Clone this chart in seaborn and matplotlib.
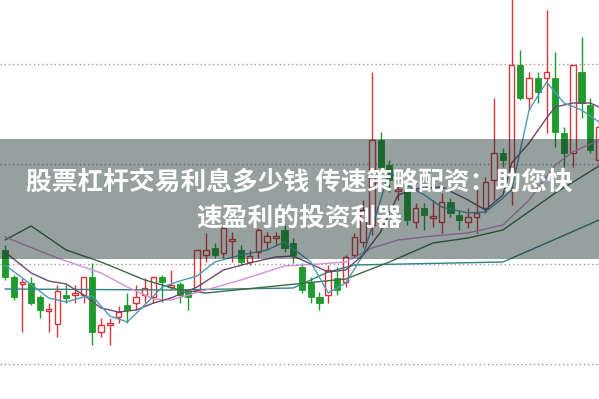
import numpy as np
import pandas as pd
import seaborn as sns
import matplotlib
matplotlib.use("Agg")
import matplotlib.pyplot as plt
from matplotlib.patches import Rectangle

# ---- candle data (one per session) ----
opens  = [111.4,108.7,108.0,108.1,106.7,105.3,104.0,106.9,106.9,106.9,108.7,103.2,103.9,104.7,105.9,106.1,106.9,106.7,108.7,107.7,
          108.0,107.2,107.4,110.9,111.6,111.1,112.3,111.4,110.2,111.2,112.2,112.6,113.4,112.1,109.7,108.1,106.7,106.9,108.6,108.2,
          110.9,112.2,113.9,122.4,119.9,117.3,117.4,114.2,115.6,114.6,114.2,116.2,114.9,114.2,114.7,115.6,118.4,121.1,119.4,129.9,
          126.6,128.6,128.6,128.6,123.1,121.1,129.2,125.9,120.4]
closes = [108.7,106.7,108.2,106.1,105.4,105.5,107.3,106.6,107.1,108.7,103.2,103.9,104.1,105.2,105.4,106.7,107.6,108.7,108.2,107.9,
          106.9,106.7,111.4,111.4,110.9,113.6,112.5,110.2,110.8,113.4,112.8,112.8,111.6,110.9,107.4,106.7,106.1,109.4,107.4,110.7,
          112.7,115.4,122.4,119.7,118.4,117.5,114.4,115.6,114.9,114.8,116.2,115.1,114.4,114.7,115.1,118.2,121.1,120.4,129.9,126.6,
          128.6,127.2,129.2,123.2,121.1,129.9,126.1,121.4,123.7]
highs  = [111.9,108.9,108.6,108.7,106.9,106.1,107.9,107.9,107.9,108.7,110.1,104.6,104.6,105.8,107.1,107.9,108.6,108.7,108.9,109.4,
          108.2,107.4,111.4,113.1,112.1,113.9,113.2,111.9,111.4,113.6,113.2,113.2,113.9,112.6,110.1,108.7,107.2,109.9,109.7,110.9,
          113.1,116.4,129.2,123.2,120.4,118.4,117.9,116.1,116.1,116.4,117.1,116.6,115.4,115.6,117.4,118.7,126.6,121.6,137.0,131.4,
          129.2,129.2,135.4,131.2,123.7,129.9,132.7,126.6,124.4]
lows   = [108.4,106.4,103.2,105.9,104.6,103.2,102.7,106.1,106.1,106.1,101.9,102.7,101.9,104.1,104.1,105.4,106.1,106.1,106.2,107.4,
          106.1,105.4,107.3,110.2,110.6,110.6,110.2,109.9,109.9,110.6,111.4,111.9,111.2,110.1,107.1,106.1,105.4,106.1,106.9,107.7,
          110.7,111.7,112.9,119.4,117.2,116.4,113.9,113.6,113.4,113.7,113.1,114.7,113.4,113.6,113.1,115.1,116.4,119.7,115.9,126.4,
          125.4,126.1,123.1,121.7,119.7,119.7,124.6,121.1,119.9]

# ---- moving-average lines (session index, value) ----
ma5_idx = [0, 2, 5, 7, 9, 10, 12, 14, 16, 18, 20, 22, 24, 27, 30, 32, 35, 37, 39, 41, 43, 44, 46, 48, 50, 53, 55, 57, 58, 60, 62, 64, 66, 68]
ma5_val = [109.9,108.6,106.6,106.2,106.7,106.8,104.8,104.2,105.9,107.7,108.3,108.8,110.2,110.9,111.4,112.2,110.2,107.1,108.1,110.9,
           116.4,119.2,117.9,116.9,115.7,115.1,115.2,116.6,117.4,125.4,128.2,126.1,125.4,124.2]
ma10_idx = [0, 3, 5, 7, 9, 11, 13, 15, 17, 19, 22, 25, 28, 31, 33, 35, 37, 39, 41, 43, 45, 47, 50, 53, 55, 57, 58, 60, 62, 63, 65, 67, 68]
ma10_val = [111.2,109.1,108.3,108.0,106.9,105.6,105.2,105.4,106.1,106.6,107.7,109.4,110.1,110.7,110.8,110.0,109.2,109.4,110.9,113.2,
            116.9,117.5,117.7,116.4,115.4,116.9,120.1,122.1,124.6,125.7,126.1,126.1,125.7]
ma20_idx = [0, 6, 11, 14, 17, 19, 23, 27, 32, 36, 39, 42, 45, 49, 53, 57, 60, 63, 65, 68]
ma20_val = [112.7,110.6,109.1,107.7,106.5,106.4,107.4,108.4,109.8,110.0,110.2,111.6,112.4,112.8,113.1,113.9,116.4,119.9,121.2,122.4]
ma30_idx = [0, 3, 7, 11, 16, 20, 23, 31, 39, 44, 49, 53, 57, 63, 68]
ma30_val = [112.4,113.8,111.4,110.2,108.4,107.4,107.1,107.8,108.5,110.2,112.1,112.6,113.4,117.1,119.8]
ma60_idx = [0, 19, 33, 37, 40, 57, 62, 68]
ma60_val = [107.5,107.4,107.6,109.2,109.9,110.2,112.1,114.4]

grid_levels = [100, 110, 120, 130]
title_line1 = "股票杠杆交易利息多少钱 传速策略配资：助您快"
title_line2 = "速盈利的投资利器"

UP = "#d8343a"
DOWN = "#1f9a2c"

sns.set_theme(style="white")
plt.rcParams["font.family"] = ["Noto Sans CJK SC", "DejaVu Sans"]

fig = plt.figure(figsize=(5.99, 3.99), dpi=100)
ax = fig.add_axes([0, 0, 1, 1])
ax.set_axis_off()

df = pd.DataFrame({"i": np.arange(len(opens)), "o": opens, "c": closes, "h": highs, "l": lows})
df["up"] = df["c"] >= df["o"]
df["bot"] = df[["o", "c"]].min(axis=1)
df["ht"] = (df["c"] - df["o"]).abs().clip(lower=0.15)
df["col"] = np.where(df["up"], UP, DOWN)

for lv in grid_levels:
    ax.axhline(lv, color="#9a9a9a", lw=1.0, ls=(0, (1, 2)), zorder=1)

ax.vlines(df["i"], df["l"], df["h"], colors=df["col"], lw=1.0, zorder=2)
up = df[df["up"]]
dn = df[~df["up"]]
ax.bar(up["i"], up["ht"], bottom=up["bot"], width=0.62, facecolor="white", edgecolor=UP, lw=1.0, zorder=3)
ax.bar(dn["i"], dn["ht"], bottom=dn["bot"], width=0.7, facecolor=DOWN, edgecolor=DOWN, lw=0.6, zorder=3)

lines = [
    (ma60_idx, ma60_val, "#2f8383"),
    (ma30_idx, ma30_val, "#3c6b45"),
    (ma20_idx, ma20_val, "#d58ed8"),
    (ma10_idx, ma10_val, "#6e4a6e"),
    (ma5_idx, ma5_val, "#4a9cb8"),
]
for xi, yv, col in lines:
    sns.lineplot(x=xi, y=yv, color=col, lw=1.0, ax=ax, zorder=4, legend=False)

ax.set_xlim(-0.572, 68.0)
ax.set_ylim(96.5, 136.4)

# semi-transparent banner
fig.patches.append(Rectangle((0, 1 - 259 / 399), 1, 120 / 399, transform=fig.transFigure,
                             facecolor=(22/255, 44/255, 42/255), alpha=0.45, edgecolor="none", zorder=10))
fig.text(0.5, 1 - 183 / 399, title_line1, ha="center", va="center", color="white",
         fontsize=18.5, fontweight="bold", zorder=11)
fig.text(0.5, 1 - 218 / 399, title_line2, ha="center", va="center", color="white",
         fontsize=18.5, fontweight="bold", zorder=11)

fig.savefig("out.png", dpi=100)
